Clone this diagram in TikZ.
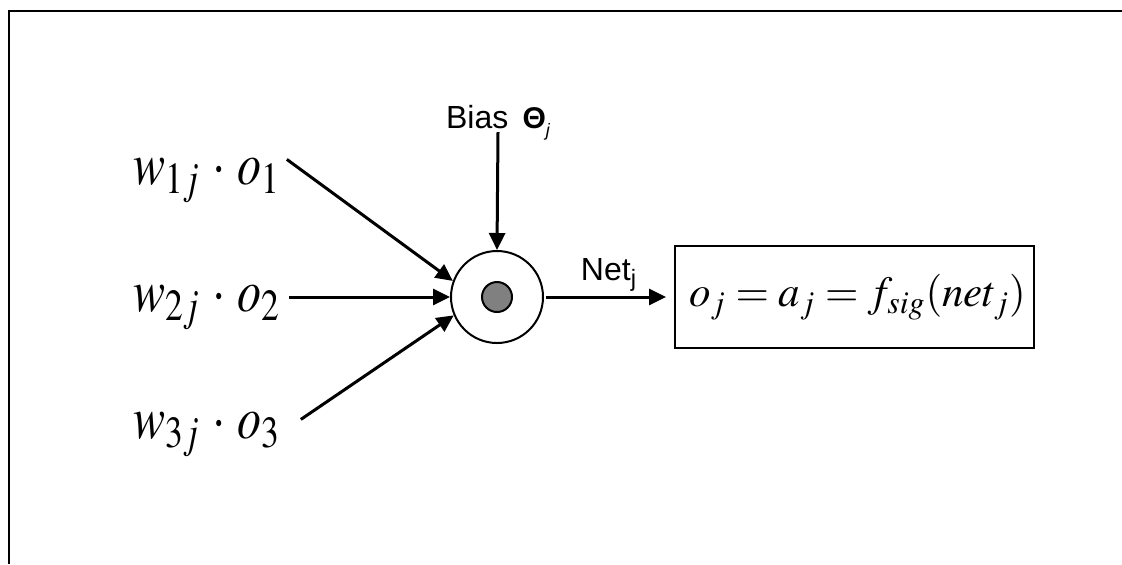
\documentclass[tikz,border=0pt]{standalone}
\usepackage{mathptmx}
\usepackage{fontspec}
\setmainfont{Liberation Serif}
\setsansfont{Liberation Sans}
\usetikzlibrary{arrows.meta,positioning,calc}
\definecolor{soma}{HTML}{808080}

\begin{document}
\begin{tikzpicture}[x=0.5pt,y=-0.5pt,
  frame/.style={line width=1pt},
  arrow/.style={-{Triangle[length=8.5pt,width=8pt]},line width=1.5pt},
  inp/.style={font=\fontsize{24}{28}\selectfont,inner sep=4pt},
  cell/.style={circle,draw,line width=1pt,minimum size=46pt,inner sep=0pt},
  dot/.style={circle,draw,line width=1pt,fill=soma,minimum size=15pt,inner sep=0pt},
  outbox/.style={draw,line width=1pt,minimum width=179.5pt,minimum height=51pt,inner sep=0pt,font=\fontsize{21.5}{26}\selectfont},
  lab/.style={font=\sffamily\fontsize{16}{19}\selectfont,inner sep=0pt},
  netlab/.style={font=\sffamily\fontsize{16}{19}\selectfont,inner sep=2pt}
]
  \useasboundingbox (0,0) rectangle (1122,564);
  \draw[frame] (1122,11) -- (9,11) -- (9,564);

  % neuron
  \node[cell] (neuron) at (497,297) {};
  \node[dot] (core) at (neuron.center) {};

  % weighted inputs
  \foreach \i/\y in {1/184,2/311,3/438}
    \node[inp,anchor=base] (in\i) at (207,\y) {\scalebox{1}[1.25]{$w_{\i j}\,\cdot\,o_{\i}$}};

  \draw[arrow] ([xshift=-1pt,yshift=10pt]in1.mid east) -- (neuron.160);
  \draw[arrow] (in2.east |- neuron.west) -- (neuron.west);
  \draw[arrow] ([xshift=6pt,yshift=7pt]in3.mid east) -- (neuron.203);

  % bias
  \node[lab,anchor=base] (bias) at (498,128) {Bias\, {\fontsize{15}{17}\selectfont\bfseries Θ}\raisebox{-4pt}{\fontsize{9}{10}\selectfont\itshape j}};
  \draw[arrow] ([yshift=-2pt]bias.base) -- (neuron.north);

  % output
  \node[outbox] (out) at (854.5,297) {\hspace{3pt}$o_{j}=a_{j}=f_{sig}(net_{j})$};
  \draw[arrow,shorten <=1pt,shorten >=4pt] (neuron.east) -- node[netlab,above] {Net\textsubscript{j}} (out.west);
\end{tikzpicture}
\end{document}
